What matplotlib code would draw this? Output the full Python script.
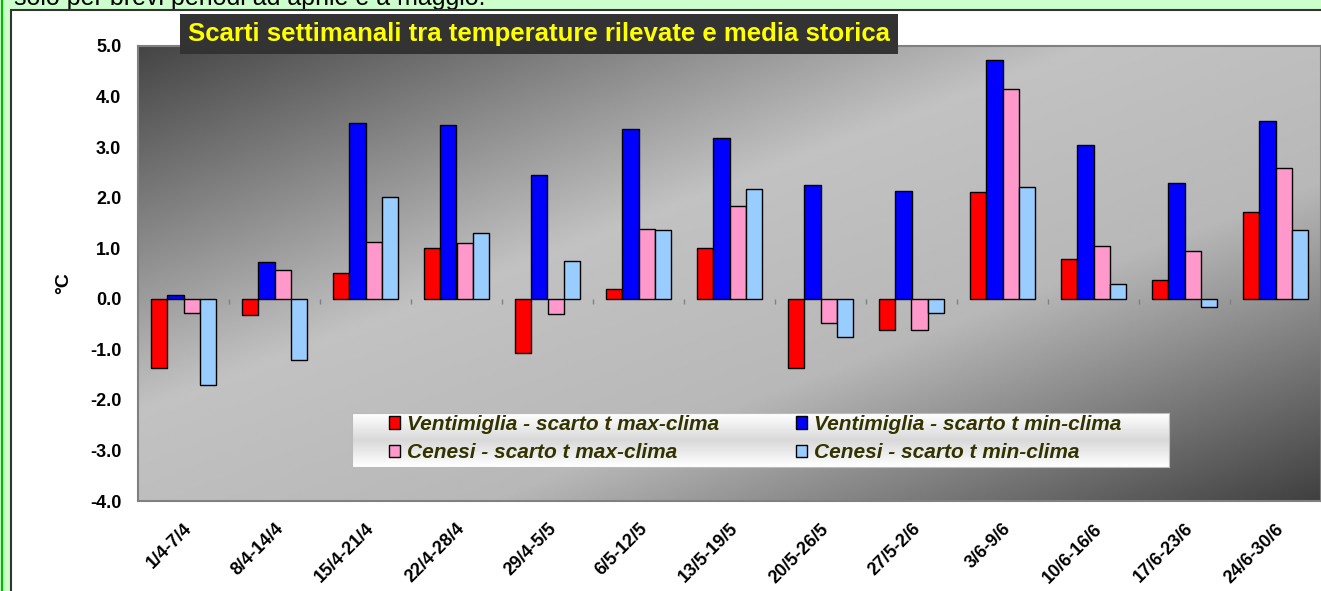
import numpy as np
import matplotlib
matplotlib.use("Agg")
import matplotlib.pyplot as plt
from matplotlib.patches import Rectangle

plt.rcParams['font.family'] = ['Liberation Sans', 'DejaVu Sans']

# dati
settimane = ['1/4-7/4', '8/4-14/4', '15/4-21/4', '22/4-28/4', '29/4-5/5', '6/5-12/5',
             '13/5-19/5', '20/5-26/5', '27/5-2/6', '3/6-9/6', '10/6-16/6', '17/6-23/6',
             '24/6-30/6']
venti_max = [-1.36, -0.33, 0.51, 1.01, -1.07, 0.20, 1.01, -1.36, -0.61, 2.11, 0.78, 0.37, 1.71]
venti_min = [0.07, 0.73, 3.48, 3.43, 2.45, 3.36, 3.18, 2.26, 2.13, 4.72, 3.05, 2.29, 3.51]
cenesi_max = [-0.28, 0.57, 1.13, 1.11, -0.30, 1.38, 1.83, -0.47, -0.61, 4.15, 1.05, 0.94, 2.59]
cenesi_min = [-1.71, -1.21, 2.01, 1.31, 0.74, 1.37, 2.17, -0.75, -0.28, 2.21, 0.30, -0.17, 1.36]

serie = [
    (venti_max, '#ff0000', 'Ventimiglia - scarto t max-clima'),
    (venti_min, '#0000ff', 'Ventimiglia - scarto t min-clima'),
    (cenesi_max, '#ff99cc', 'Cenesi - scarto t max-clima'),
    (cenesi_min, '#99ccff', 'Cenesi - scarto t min-clima'),
]

W, H = 1321, 591
fig = plt.figure(figsize=(W / 100, H / 100), dpi=100)
fig.patch.set_facecolor('#ccffcc')

# testo tagliato in alto
fig.text(14 / W, 1 - 5 / H, 'solo per brevi periodi ad aprile e a maggio.',
         fontsize=18, va='baseline', ha='left', zorder=-2)
# area bianca del grafico
fig.patches.append(Rectangle((11 / W, -0.01), 1.0, 1 - 10 / H + 0.01, transform=fig.transFigure,
                             facecolor='white', edgecolor='#333333', linewidth=1.5, zorder=-1))
fig.patches.append(Rectangle((1.5 / W, -0.01), 0, 1.02, transform=fig.transFigure,
                             facecolor='none', edgecolor='#00bb00', linewidth=1.5, zorder=-1))

ax = fig.add_axes([138 / W, 90 / H, 1183 / W, 455 / H])

# sfondo sfumato
xs = np.linspace(0, 1, 400)
ys = np.linspace(0, 1, 200)
u = xs[None, :] + ys[:, None]
shade = np.interp(u, [0, 0.8, 1.3, 2.0], [0.27, 0.76, 0.72, 0.25])
ax.imshow(shade, extent=[0, 1, 0, 1], transform=ax.transAxes, aspect='auto',
          cmap='gray', vmin=0, vmax=1, zorder=0, interpolation='bilinear')

x = np.arange(len(settimane))
w = 0.725 / 4
handles = []
for i, (vals, col, lab) in enumerate(serie):
    b = ax.bar(x + (i - 1.5) * w, vals, w, color=col, edgecolor='black', linewidth=1,
               label=lab, zorder=3)
    handles.append(b)

ax.set_xlim(-0.5, len(settimane) - 0.5)
ax.set_ylim(-4, 5)
ax.set_yticks(np.arange(-4, 5.1, 1))
ax.set_yticklabels([f'{v:.1f}' for v in np.arange(-4, 5.1, 1)], fontweight='bold', fontsize=13)
ax.set_yticks([-3, -2, 1, 2], minor=True)
ax.tick_params(axis='y', which='major', length=0, pad=12)
ax.tick_params(axis='y', which='minor', length=5, color='#808080', width=1)
ax.yaxis.grid(True, which='minor', color='white', linewidth=1.2, zorder=1)
ax.set_axisbelow(True)

ax.set_xticks(x)
ax.set_xticklabels(settimane, rotation=45, ha='right', va='top', rotation_mode='anchor',
                   fontweight='bold', fontsize=13)
ax.tick_params(axis='x', length=0, pad=14)
ax.vlines(x[:-1] + 0.5, -0.1, 0, color='#808080', linewidth=1, zorder=2)

for s in ax.spines.values():
    s.set_color('#808080')
    s.set_linewidth(1.5)

ax.set_ylabel('°C', fontweight='bold', fontsize=14)
ax.yaxis.set_label_coords(-0.056, 0.48)

# titolo
fig.text(539 / W, 1 - 34 / H, 'Scarti settimanali tra temperature rilevate e media storica',
         ha='center', va='center', color='#ffff00', fontweight='bold', fontsize=18.5,
         bbox=dict(boxstyle='square,pad=0.3', facecolor='#333333', edgecolor='none'), zorder=5)

# legenda con sfondo sfumato
lax = fig.add_axes([352 / W, 1 - 467 / H, 817 / W, 54 / H], zorder=4)
g = np.interp(np.linspace(0, 1, 100), [0, 0.5, 1], [1.0, 0.85, 1.0])[:, None]
lax.imshow(g, extent=[0, 1, 0, 1], aspect='auto', cmap='gray', vmin=0, vmax=1)
lax.set_xticks([])
lax.set_yticks([])
for s in lax.spines.values():
    s.set_color('#bbbbbb')
lax.legend([handles[0], handles[2], handles[1], handles[3]],
           [serie[0][2], serie[2][2], serie[1][2], serie[3][2]],
           ncol=2, loc='upper left', bbox_to_anchor=(389 / W, 1 - 415 / H),
           bbox_transform=fig.transFigure, frameon=False, borderpad=0, borderaxespad=0,
           handlelength=0.55, handleheight=0.55, handletextpad=0.3, columnspacing=3.7,
           labelspacing=0.45, labelcolor='#333300',
           prop=dict(family='Liberation Sans', weight='bold', style='italic', size=15))

fig.savefig('out.png', dpi=100, facecolor=fig.get_facecolor())
